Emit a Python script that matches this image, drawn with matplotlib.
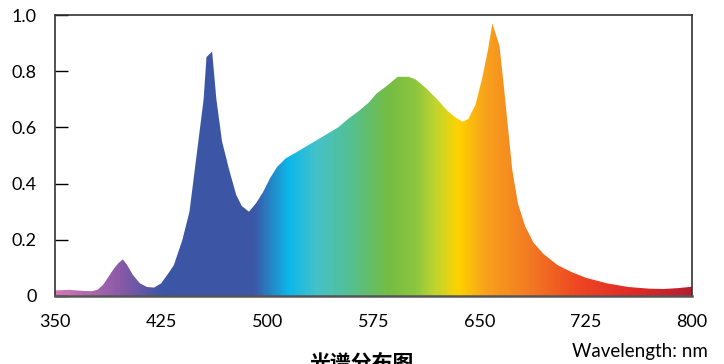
import matplotlib
matplotlib.use("Agg")
import matplotlib.pyplot as plt
import numpy as np
from matplotlib.colors import LinearSegmentedColormap

# spectrum
wavelength = [350, 360, 370, 376, 380, 384, 388, 392, 395, 398, 401, 405, 410, 415, 420,
              425, 430, 434, 440, 445, 450, 455, 457, 459, 461, 464, 468, 473, 478, 482,
              487, 492, 497, 502, 507, 513, 520, 530, 540, 550, 557, 565, 572, 577, 585,
              592, 600, 605, 612, 620, 627, 633, 638, 642, 647, 652, 656, 659, 664, 667,
              670, 673, 677, 682, 688, 695, 705, 715, 725, 740, 755, 770, 780, 790, 800]
intensity = [0.020, 0.022, 0.018, 0.017, 0.022, 0.040, 0.070, 0.100, 0.118, 0.130, 0.110,
             0.075, 0.045, 0.032, 0.030, 0.045, 0.080, 0.110, 0.200, 0.300, 0.500, 0.700,
             0.850, 0.860, 0.870, 0.700, 0.550, 0.450, 0.360, 0.320, 0.300, 0.330, 0.370,
             0.420, 0.460, 0.490, 0.510, 0.540, 0.570, 0.600, 0.630, 0.660, 0.690, 0.720,
             0.750, 0.780, 0.780, 0.770, 0.740, 0.700, 0.660, 0.635, 0.620, 0.630, 0.680,
             0.780, 0.880, 0.970, 0.890, 0.750, 0.600, 0.450, 0.330, 0.250, 0.190, 0.150,
             0.110, 0.085, 0.065, 0.045, 0.032, 0.026, 0.025, 0.028, 0.033]

# colour stops along the wavelength axis
stop_nm = [350, 395, 425, 490, 515, 535, 560, 585, 605, 620, 635, 655, 685, 720, 760, 800]
stop_colors = ['#d478b4', '#8a5aa8', '#3c56a5', '#3c56a5', '#0cb8ea', '#45c2c8', '#55c08e',
               '#74bc44', '#8cc63f', '#c4d52c', '#ffd200', '#f8a11d', '#f27b22', '#ee4723',
               '#e02a27', '#b51f2e']

x_ticks = [350, 425, 500, 575, 650, 725, 800]
y_ticks = [0, 0.2, 0.4, 0.6, 0.8, 1.0]
y_labels = ['0', '0.2', '0.4', '0.6', '0.8', '1.0']

fig = plt.figure(figsize=(7.24, 3.64), dpi=100)
ax = fig.add_axes([55 / 724, 1 - 296 / 364, (692 - 55) / 724, (296 - 15) / 364])

cmap = LinearSegmentedColormap.from_list(
    'spec', [((n - 350) / 450, c) for n, c in zip(stop_nm, stop_colors)])

poly = ax.fill_between(wavelength, intensity, 0, color='none', lw=0)
grad = np.linspace(0, 1, 900).reshape(1, -1)
img = ax.imshow(grad, cmap=cmap, aspect='auto', extent=[350, 800, 0, 1],
                interpolation='bilinear', origin='lower')
img.set_clip_path(poly.get_paths()[0], transform=ax.transData)

ax.set_xlim(350, 800)
ax.set_ylim(0, 1)
ax.set_xticks(x_ticks)
ax.set_yticks(y_ticks)
ax.set_yticklabels(y_labels)
ax.tick_params(axis='x', length=0, pad=13, labelsize=13, colors='black')
ax.tick_params(axis='y', direction='in', length=9, width=1, pad=13, labelsize=13)
for s in ax.spines.values():
    s.set_color('#333333')
    s.set_linewidth(1.2)
ax.spines['bottom'].set_color('#555555')
ax.spines['bottom'].set_linewidth(1.8)
for lab in ax.get_xticklabels() + ax.get_yticklabels():
    lab.set_family('Lato')

fig.text(362 / 724, 1 - 353 / 364, '光谱分布图', ha='center', va='top', fontsize=15,
         fontweight='bold', family=['Noto Sans CJK SC', 'DejaVu Sans'])
fig.text(708 / 724, 1 - 343 / 364, 'Wavelength: nm', ha='right', va='top', fontsize=13.5,
         family='Lato')

fig.savefig('out.png', dpi=100)
